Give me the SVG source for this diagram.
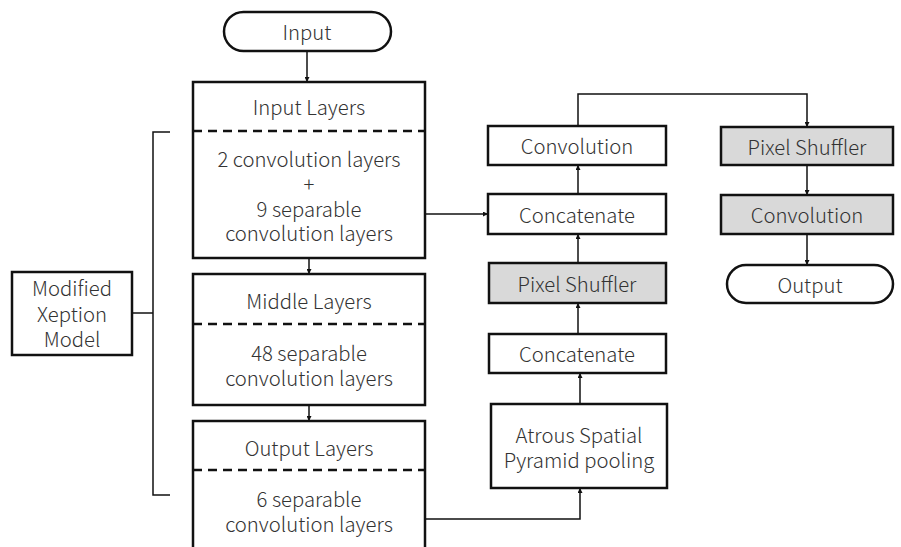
<svg xmlns="http://www.w3.org/2000/svg" width="901" height="547" viewBox="0 0 901 547">
<defs>
<marker id="ah" viewBox="0 0 10 10" refX="10" refY="5" markerWidth="5" markerHeight="5" orient="auto" markerUnits="userSpaceOnUse">
<path d="M0,0 L10,5 L0,10 z" fill="#111"/>
</marker>
<style>
.box{fill:#fff;stroke:#111;stroke-width:2.5}
.gray{fill:#d9d9d9;stroke:#111;stroke-width:2.5}
.dash{stroke:#111;stroke-width:2.5;stroke-dasharray:9,6;fill:none}
.con{stroke:#111;stroke-width:1.5;fill:none}
.arr{stroke:#111;stroke-width:1.5;fill:none;marker-end:url(#ah)}
text{font-family:"Noto Sans CJK JP","Noto Sans",sans-serif;font-size:20.3px;font-weight:300;fill:#333;text-anchor:middle;dominant-baseline:central}
</style>
</defs>
<rect width="901" height="547" fill="#fff"/>
<g id="connectors">
<line class="arr" x1="307" y1="51" x2="307" y2="82"/>
<line class="arr" x1="309" y1="258" x2="309" y2="274"/>
<line class="arr" x1="309" y1="405" x2="309" y2="421"/>
<line class="arr" x1="425" y1="214" x2="488" y2="214"/>
<polyline class="arr" points="425,519 580,519 580,488"/>
<line class="arr" x1="580" y1="404" x2="580" y2="373"/>
<line class="arr" x1="578" y1="334" x2="578" y2="303"/>
<line class="arr" x1="578" y1="263" x2="578" y2="234"/>
<line class="arr" x1="578" y1="194" x2="578" y2="165"/>
<polyline class="arr" points="578,126 578,94 807,94 807,127"/>
<line class="arr" x1="807" y1="165" x2="807" y2="195"/>
<line class="arr" x1="807" y1="234" x2="807" y2="265"/>
<polyline class="con" points="170,132 153,132 153,495 170,495"/>
<line class="con" x1="132" y1="313" x2="153" y2="313"/>
</g>
<g id="input">
<rect class="box" x="224" y="12" width="167" height="39" rx="19.5"/>
<text x="307" y="31">Input</text>
</g>
<g id="input-layers">
<rect class="box" x="193" y="82" width="232" height="176"/>
<line class="dash" x1="193" y1="131" x2="425" y2="131"/>
<text x="309" y="106">Input Layers</text>
<text x="309" y="158">2 convolution layers</text>
<text x="309" y="183">+</text>
<text x="309" y="208">9 separable</text>
<text x="309" y="232">convolution layers</text>
</g>
<g id="middle-layers">
<rect class="box" x="193" y="274" width="232" height="131"/>
<line class="dash" x1="193" y1="324" x2="425" y2="324"/>
<text x="309" y="300">Middle Layers</text>
<text x="309" y="352">48 separable</text>
<text x="309" y="377">convolution layers</text>
</g>
<g id="output-layers">
<rect class="box" x="193" y="421" width="232" height="140"/>
<line class="dash" x1="193" y1="470" x2="425" y2="470"/>
<text x="309" y="447">Output Layers</text>
<text x="309" y="498">6 separable</text>
<text x="309" y="523">convolution layers</text>
</g>
<g id="modified-xeption">
<rect class="box" x="12" y="272" width="120" height="83"/>
<text x="72" y="287">Modified</text>
<text x="72" y="313">Xeption</text>
<text x="72" y="338">Model</text>
</g>
<g id="convolution-1">
<rect class="box" x="488" y="126" width="178" height="39"/>
<text x="577" y="145">Convolution</text>
</g>
<g id="concatenate-1">
<rect class="box" x="488" y="194" width="178" height="40"/>
<text x="577" y="214">Concatenate</text>
</g>
<g id="pixel-shuffler-1">
<rect class="gray" x="489" y="263" width="177" height="40"/>
<text x="577" y="283">Pixel Shuffler</text>
</g>
<g id="concatenate-2">
<rect class="box" x="489" y="334" width="177" height="39"/>
<text x="577" y="353">Concatenate</text>
</g>
<g id="aspp">
<rect class="box" x="491" y="404" width="176" height="84"/>
<text x="579" y="434">Atrous Spatial</text>
<text x="579" y="459">Pyramid pooling</text>
</g>
<g id="pixel-shuffler-2">
<rect class="gray" x="721" y="127" width="172" height="38"/>
<text x="807" y="146">Pixel Shuffler</text>
</g>
<g id="convolution-2">
<rect class="gray" x="721" y="195" width="172" height="39"/>
<text x="807" y="214">Convolution</text>
</g>
<g id="output">
<rect class="box" x="727" y="265" width="166" height="38" rx="19"/>
<text x="810" y="284">Output</text>
</g>
</svg>
